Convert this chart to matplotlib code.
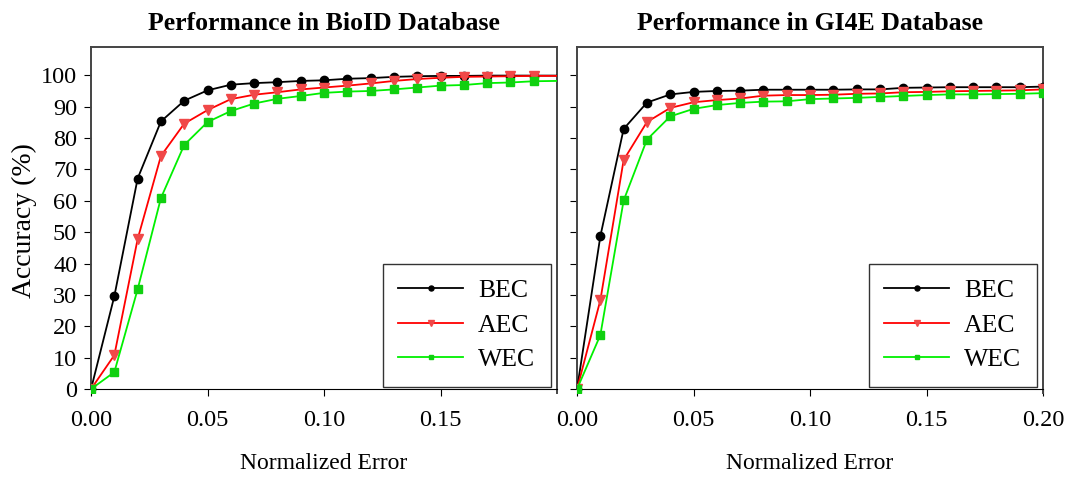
import numpy as np
import matplotlib
matplotlib.use('Agg')
import matplotlib.pyplot as plt

plt.rcParams['font.family'] = ['Liberation Serif', 'DejaVu Serif']
plt.rcParams['xtick.direction'] = 'out'
plt.rcParams['ytick.direction'] = 'out'

# normalized error steps
err_bioid = [0.00, 0.01, 0.02, 0.03, 0.04, 0.05, 0.06, 0.07, 0.08, 0.09, 0.10,
             0.11, 0.12, 0.13, 0.14, 0.15, 0.16, 0.17, 0.18, 0.19, 0.20]
err_gi4e = [0.00, 0.01, 0.02, 0.03, 0.04, 0.05, 0.06, 0.07, 0.08, 0.09, 0.10,
            0.11, 0.12, 0.13, 0.14, 0.15, 0.16, 0.17, 0.18, 0.19, 0.20]

# BioID accuracy (%)
bioid_bec = [0, 29.6, 67.1, 85.3, 91.9, 95.2, 97.0, 97.5, 97.8, 98.2, 98.4,
             98.9, 99.1, 99.5, 99.7, 99.8, 99.8, 99.9, 99.9, 99.9, 99.9]
bioid_aec = [0, 10.8, 47.8, 74.3, 84.6, 88.9, 92.4, 93.8, 94.6, 95.5, 96.1,
             96.7, 97.4, 98.2, 98.8, 99.2, 99.5, 99.6, 99.7, 99.8, 99.8]
bioid_wec = [0, 5.4, 31.8, 60.9, 77.8, 85.1, 88.6, 91.0, 92.5, 93.4, 94.4,
             94.8, 95.0, 95.5, 96.1, 96.7, 96.9, 97.5, 97.7, 98.1, 98.2]

# GI4E accuracy (%)
gi4e_bec = [0, 48.7, 82.9, 91.3, 93.9, 94.7, 95.0, 95.1, 95.4, 95.4, 95.4,
            95.4, 95.5, 95.5, 96.0, 96.1, 96.2, 96.2, 96.2, 96.2, 96.4]
gi4e_aec = [0, 28.3, 73.0, 85.1, 89.6, 91.4, 92.1, 92.6, 93.5, 93.7, 93.7,
            93.8, 94.1, 94.2, 94.6, 94.7, 94.9, 95.0, 95.1, 95.2, 95.5]
gi4e_wec = [0, 17.2, 60.1, 79.5, 86.9, 89.3, 90.5, 91.2, 91.6, 91.7, 92.4,
            92.6, 92.8, 93.1, 93.4, 93.7, 93.9, 93.9, 94.0, 94.1, 94.3]

labels = ['BEC', 'AEC', 'WEC']
styles = [
    dict(color='black', marker='o', mfc='black', mec='black', ms=6),
    dict(color='#ff0000', marker='v', mfc='#f04848', mec='#f04848', ms=7),
    dict(color='#00f000', marker='s', mfc='#10d010', mec='#10d010', ms=5.5),
]

fig = plt.figure(figsize=(10.8, 4.8), dpi=100)
ax1 = fig.add_axes([0.0843, 0.181, 0.4315, 0.721])
ax2 = fig.add_axes([0.5343, 0.181, 0.4315, 0.721])

# left panel: last point only continues the line, no marker drawn
panels = [
    (ax1, err_bioid, [bioid_bec, bioid_aec, bioid_wec], 'Performance in BioID Database',
     [0.00, 0.05, 0.10, 0.15], slice(0, 20)),
    (ax2, err_gi4e, [gi4e_bec, gi4e_aec, gi4e_wec], 'Performance in GI4E Database',
     [0.00, 0.05, 0.10, 0.15, 0.20], None),
]

for ax, x, series, title, xt, mev in panels:
    for ys, lab, st in zip(series, labels, styles):
        ax.plot(x, ys, lw=1.3, label=lab, clip_on=True, zorder=3, markevery=mev, **st)
    ax.set_xlim(0, 0.2)
    ax.set_ylim(-1.3, 109)
    ax.set_xticks(xt)
    ax.set_xticklabels(['%.2f' % v for v in xt])
    ax.set_yticks(np.arange(0, 101, 10))
    ax.spines['bottom'].set_position(('data', 0))
    ax.spines['bottom'].set_color('black')
    ax.spines['left'].set_bounds(0, 109)
    for s in ['top', 'right', 'left']:
        ax.spines[s].set_color('#444444')
        ax.spines[s].set_linewidth(1.4)
    ax.tick_params(axis='x', length=5, pad=10, labelsize=17.5)
    ax.tick_params(axis='y', length=5, pad=5, labelsize=17.5)
    ax.set_title(title, fontsize=18.5, fontweight='bold', pad=12)
    ax.set_xlabel('Normalized Error', fontsize=17, labelpad=16)
    leg = ax.legend(loc='lower right', fontsize=18.5, handlelength=2.5,
                    labelspacing=0.45, borderpad=0.6, borderaxespad=0.25,
                    fancybox=False, markerscale=0.6, handletextpad=0.6)
    leg.get_frame().set_edgecolor('black')
    leg.get_frame().set_linewidth(1.0)

ax1.set_ylabel('Accuracy (%)', fontsize=20, labelpad=3)
ax2.set_yticklabels([])

fig.savefig('out.png', dpi=100)
